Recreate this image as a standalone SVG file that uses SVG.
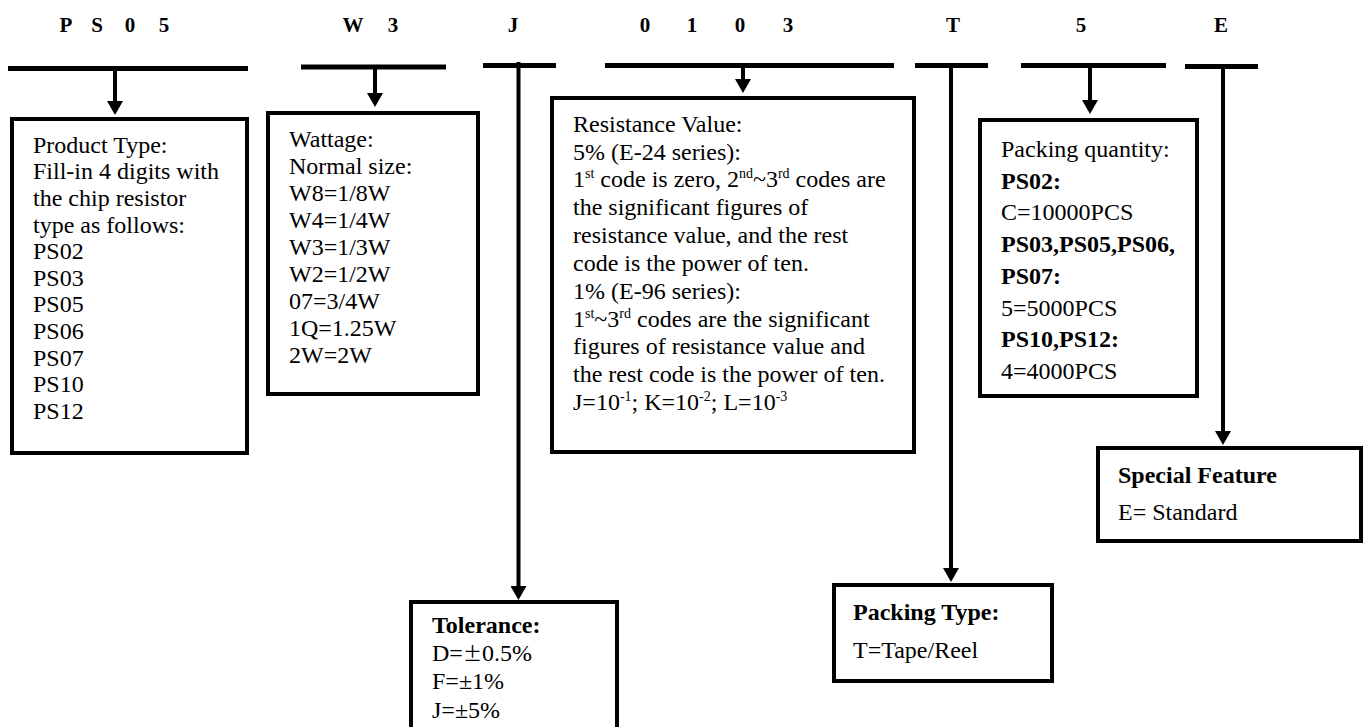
<svg xmlns="http://www.w3.org/2000/svg" width="1367" height="727" viewBox="0 0 1367 727">
<style>
  .t { font-family: "Liberation Serif", "Times New Roman", serif; font-size: 24px; fill: #000; }
  .b { font-weight: bold; }
  .hd { font-family: "Liberation Serif", "Times New Roman", serif; font-size: 21px; font-weight: bold; fill: #000; text-anchor: middle; }
  .sup { font-size: 14px; }
  .box { fill: #fff; stroke: #000; stroke-width: 4; }
  .bar { stroke: #000; stroke-width: 5; fill: none; }
  .conn { stroke: #000; stroke-width: 4; fill: none; }
  .pm { font-family: "Noto Sans CJK SC", "Liberation Serif", sans-serif; font-size: 19px; }
</style>
<defs>
  <marker id="ah" markerUnits="userSpaceOnUse" markerWidth="14" markerHeight="16" viewBox="0 0 14 16" refX="10" refY="8" orient="auto">
    <path d="M0,0 L14,8 L0,16 Z" fill="#000"/>
  </marker>
</defs>
<rect width="1367" height="727" fill="#fff"/>

<g id="header">
  <text class="hd" x="66" y="32">P</text>
  <text class="hd" x="97" y="32">S</text>
  <text class="hd" x="130" y="32">0</text>
  <text class="hd" x="164" y="32">5</text>
  <text class="hd" x="353" y="32">W</text>
  <text class="hd" x="393" y="32">3</text>
  <text class="hd" x="513" y="32">J</text>
  <text class="hd" x="645" y="32">0</text>
  <text class="hd" x="692" y="32">1</text>
  <text class="hd" x="740" y="32">0</text>
  <text class="hd" x="788" y="32">3</text>
  <text class="hd" x="953" y="32">T</text>
  <text class="hd" x="1081" y="32">5</text>
  <text class="hd" x="1221" y="32">E</text>
</g>

<g id="bars">
  <line class="bar" x1="8" y1="68.5" x2="248" y2="68.5"/>
  <line class="bar" x1="301" y1="67" x2="446" y2="67"/>
  <line class="bar" x1="483" y1="65.5" x2="556" y2="65.5"/>
  <line class="bar" x1="605" y1="65.5" x2="894" y2="65.5"/>
  <line class="bar" x1="915" y1="65.5" x2="988" y2="65.5"/>
  <line class="bar" x1="1021" y1="65.5" x2="1166" y2="65.5"/>
  <line class="bar" x1="1185" y1="66.5" x2="1258" y2="66.5"/>
</g>

<g id="connectors">
  <line class="conn" x1="115" y1="70" x2="115" y2="111" marker-end="url(#ah)"/>
  <line class="conn" x1="375" y1="69" x2="375" y2="103" marker-end="url(#ah)"/>
  <line class="conn" x1="743" y1="67" x2="743" y2="89" marker-end="url(#ah)"/>
  <line class="conn" x1="518.5" y1="62" x2="518.5" y2="596" marker-end="url(#ah)"/>
  <line class="conn" x1="951" y1="67" x2="951" y2="578" marker-end="url(#ah)"/>
  <line class="conn" x1="1090" y1="67" x2="1090" y2="110" marker-end="url(#ah)"/>
  <line class="conn" x1="1223" y1="68" x2="1223" y2="441" marker-end="url(#ah)"/>
</g>

<g id="product-type">
  <rect class="box" x="12" y="119" width="235" height="334"/>
  <text class="t" x="33" y="152.7">Product Type:</text>
  <text class="t" x="33" y="179.3">Fill-in 4 digits with</text>
  <text class="t" x="33" y="205.9">the chip resistor</text>
  <text class="t" x="33" y="232.5">type as follows:</text>
  <text class="t" x="33" y="259.1">PS02</text>
  <text class="t" x="33" y="285.7">PS03</text>
  <text class="t" x="33" y="312.3">PS05</text>
  <text class="t" x="33" y="338.9">PS06</text>
  <text class="t" x="33" y="365.5">PS07</text>
  <text class="t" x="33" y="392.1">PS10</text>
  <text class="t" x="33" y="418.7">PS12</text>
</g>

<g id="wattage">
  <rect class="box" x="268" y="113" width="210" height="281"/>
  <text class="t" x="289" y="147">Wattage:</text>
  <text class="t" x="289" y="174">Normal size:</text>
  <text class="t" x="289" y="201">W8=1/8W</text>
  <text class="t" x="289" y="228">W4=1/4W</text>
  <text class="t" x="289" y="255">W3=1/3W</text>
  <text class="t" x="289" y="282">W2=1/2W</text>
  <text class="t" x="289" y="309">07=3/4W</text>
  <text class="t" x="289" y="336">1Q=1.25W</text>
  <text class="t" x="289" y="363">2W=2W</text>
</g>

<g id="resistance">
  <rect class="box" x="552" y="98" width="362" height="354"/>
  <text class="t" x="573" y="131.7">Resistance Value:</text>
  <text class="t" x="573" y="159.5">5% (E-24 series):</text>
  <text class="t" x="573" y="187.3">1<tspan class="sup" dy="-9">st</tspan><tspan dy="9"> code is zero, 2</tspan><tspan class="sup" dy="-9">nd</tspan><tspan dy="9">~3</tspan><tspan class="sup" dy="-9">rd</tspan><tspan dy="9"> codes are</tspan></text>
  <text class="t" x="573" y="215.2">the significant figures of</text>
  <text class="t" x="573" y="243">resistance value, and the rest</text>
  <text class="t" x="573" y="270.8">code is the power of ten.</text>
  <text class="t" x="573" y="298.6">1% (E-96 series):</text>
  <text class="t" x="573" y="326.5">1<tspan class="sup" dy="-9">st</tspan><tspan dy="9">~3</tspan><tspan class="sup" dy="-9">rd</tspan><tspan dy="9"> codes are the significant</tspan></text>
  <text class="t" x="573" y="354.3">figures of resistance value and</text>
  <text class="t" x="573" y="382.1">the rest code is the power of ten.</text>
  <text class="t" x="573" y="410">J=10<tspan class="sup" dy="-9">-1</tspan><tspan dy="9">; K=10</tspan><tspan class="sup" dy="-9">-2</tspan><tspan dy="9">; L=10</tspan><tspan class="sup" dy="-9">-3</tspan></text>
</g>

<g id="packing-quantity">
  <rect class="box" x="980" y="120" width="217" height="276"/>
  <text class="t" x="1001" y="157">Packing quantity:</text>
  <text class="t b" x="1001" y="188.5">PS02:</text>
  <text class="t" x="1001" y="220">C=10000PCS</text>
  <text class="t b" x="1001" y="252">PS03,PS05,PS06,</text>
  <text class="t b" x="1001" y="283.5">PS07:</text>
  <text class="t" x="1001" y="315.5">5=5000PCS</text>
  <text class="t b" x="1001" y="347">PS10,PS12:</text>
  <text class="t" x="1001" y="379">4=4000PCS</text>
</g>

<g id="special-feature">
  <rect class="box" x="1098" y="448" width="263" height="93"/>
  <text class="t b" x="1118" y="483">Special Feature</text>
  <text class="t" x="1118" y="520">E= Standard</text>
</g>

<g id="packing-type">
  <rect class="box" x="834" y="585" width="218" height="96"/>
  <text class="t b" x="853" y="620">Packing Type:</text>
  <text class="t" x="853" y="658">T=Tape/Reel</text>
</g>

<g id="tolerance">
  <rect class="box" x="411" y="602" width="206" height="140"/>
  <text class="t b" x="432" y="633">Tolerance:</text>
  <text class="t" x="432" y="661">D=<tspan class="pm">±</tspan>0.5%</text>
  <text class="t" x="432" y="689">F=±1%</text>
  <text class="t" x="432" y="718">J=±5%</text>
</g>
</svg>
